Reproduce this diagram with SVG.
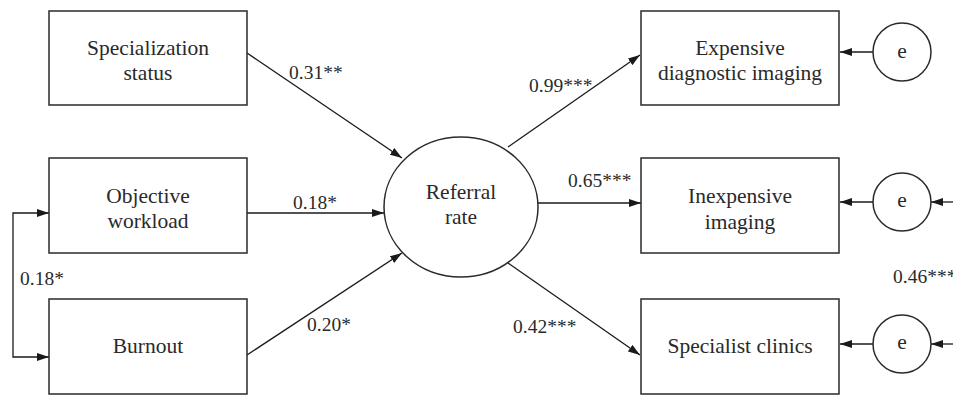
<svg xmlns="http://www.w3.org/2000/svg" width="953" height="395" viewBox="0 0 953 395">
<defs>
<marker id="ah" viewBox="0 0 12 8" refX="12" refY="4" markerWidth="12" markerHeight="8" markerUnits="userSpaceOnUse" orient="auto-start-reverse">
<path d="M0,0 L12,4 L0,8 Z" fill="#1a1a1a"/>
</marker>
</defs>
<style>
.box{fill:#fff;stroke:#2a2a2a;stroke-width:1.5}
.t{font-family:'Liberation Serif','DejaVu Serif',serif;font-size:21.5px;fill:#2a2a2a;text-anchor:middle}
.lbl{font-family:'Liberation Serif','DejaVu Serif',serif;font-size:19.5px;fill:#2a2a2a}
.c{fill:none;stroke:#1a1a1a;stroke-width:1.3;marker-end:url(#ah)}
</style>
<rect width="953" height="395" fill="#fff"/>
<g id="connectors">
<path class="c" d="M247,53 L402,158"/>
<path class="c" d="M247,213 L384,213"/>
<path class="c" d="M247,355 L402,253"/>
<path class="c" d="M49,213 H13 V357 H49" style="marker-start:url(#ah)"/>
<path class="c" d="M508,147 L640,55"/>
<path class="c" d="M538,203 L641,203"/>
<path class="c" d="M508,263 L640,355"/>
<path class="c" d="M873,52 L840,52"/>
<path class="c" d="M873,202 L840,202"/>
<path class="c" d="M953,202 L931,202"/>
<path class="c" d="M873,344 L840,344"/>
<path class="c" d="M953,344 L931,344"/>
<text class="lbl" x="289" y="79">0.31**</text>
<text class="lbl" x="293" y="209">0.18*</text>
<text class="lbl" x="307" y="331">0.20*</text>
<text class="lbl" x="20" y="285">0.18*</text>
<text class="lbl" x="529" y="92">0.99***</text>
<text class="lbl" x="568" y="187">0.65***</text>
<text class="lbl" x="513" y="333">0.42***</text>
<text class="lbl" x="893" y="283">0.46***</text>
</g>
<g id="specialization">
<rect class="box" x="49" y="11" width="198" height="94"/>
<text class="t" x="148" y="55">Specialization</text>
<text class="t" x="148" y="80">status</text>
</g>
<g id="objective">
<rect class="box" x="49" y="158" width="198" height="95"/>
<text class="t" x="148" y="203">Objective</text>
<text class="t" x="148" y="228">workload</text>
</g>
<g id="burnout">
<rect class="box" x="49" y="299" width="198" height="95"/>
<text class="t" x="148" y="353">Burnout</text>
</g>
<g id="referral">
<ellipse cx="461" cy="207" rx="77" ry="70" fill="#fff" stroke="#2a2a2a" stroke-width="1.5"/>
<text class="t" x="461" y="199">Referral</text>
<text class="t" x="461" y="224">rate</text>
</g>
<g id="expensive">
<rect class="box" x="641" y="11" width="198" height="94"/>
<text class="t" x="740" y="55">Expensive</text>
<text class="t" x="740" y="80">diagnostic imaging</text>
</g>
<g id="inexpensive">
<rect class="box" x="641" y="158" width="198" height="95"/>
<text class="t" x="740" y="203">Inexpensive</text>
<text class="t" x="740" y="229">imaging</text>
</g>
<g id="specialist">
<rect class="box" x="641" y="299" width="198" height="95"/>
<text class="t" x="740" y="353">Specialist clinics</text>
</g>
<g id="e1">
<circle cx="902" cy="52" r="29" fill="#fff" stroke="#2a2a2a" stroke-width="1.5"/>
<text class="t" x="902" y="58">e</text>
</g>
<g id="e2">
<circle cx="902" cy="202" r="29" fill="#fff" stroke="#2a2a2a" stroke-width="1.5"/>
<text class="t" x="902" y="207">e</text>
</g>
<g id="e3">
<circle cx="902" cy="344" r="29" fill="#fff" stroke="#2a2a2a" stroke-width="1.5"/>
<text class="t" x="902" y="349">e</text>
</g>
</svg>
